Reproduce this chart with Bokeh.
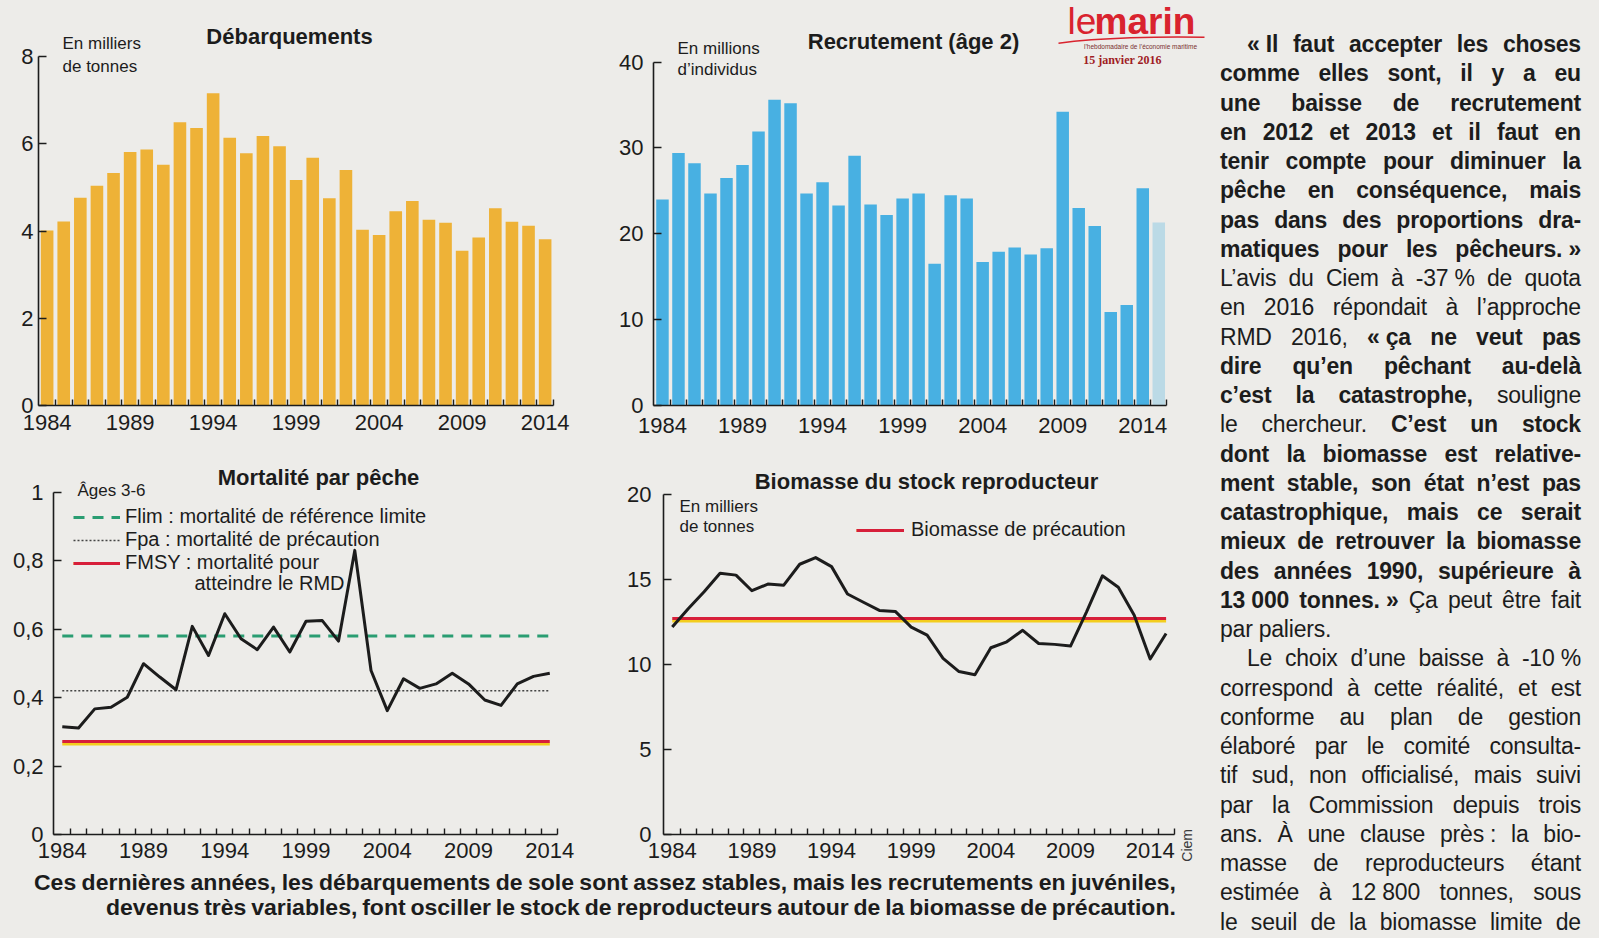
from html import escape
from bokeh.plotting import figure
from bokeh.models import (Range1d, FixedTicker, Label, Legend, LegendItem, Div,
                          CustomJSTickFormatter)
from bokeh.core.properties import value
from bokeh.layouts import row, column
from bokeh.embed import file_html
from bokeh.resources import INLINE

# ---------------------------------------------------------------- data
landing_years = list(range(1984, 2015))
landings = [4.01, 4.22, 4.76, 5.04, 5.33, 5.81, 5.87, 5.52, 6.49, 6.36, 7.16,
            6.14, 5.78, 6.18, 5.94, 5.17, 5.68, 4.75, 5.40, 4.03, 3.91, 4.45,
            4.69, 4.26, 4.19, 3.55, 3.85, 4.52, 4.21, 4.12, 3.81]

recruit_years = list(range(1984, 2016))
recruitment = [24.0, 29.4, 28.2, 24.7, 26.5, 28.0, 31.9, 35.6, 35.2, 24.7, 26.0,
               23.3, 29.1, 23.4, 22.2, 24.1, 24.7, 16.5, 24.5, 24.1, 16.7, 17.9,
               18.4, 17.6, 18.3, 34.2, 23.0, 20.9, 10.9, 11.7, 25.3, 21.3]
recruit_last_assessed = 2014

mortality_years = list(range(1984, 2015))
mortality = [0.315, 0.311, 0.367, 0.372, 0.401, 0.499, 0.460, 0.423, 0.608, 0.523,
             0.645, 0.572, 0.540, 0.606, 0.533, 0.623, 0.625, 0.565, 0.830, 0.479,
             0.362, 0.455, 0.427, 0.440, 0.471, 0.440, 0.393, 0.377, 0.440, 0.462,
             0.471]
f_lim = 0.58
f_pa = 0.42
f_msy = 0.27

ssb_years = list(range(1984, 2016))
ssb = [12.22, 13.3, 14.3, 15.39, 15.28, 14.36, 14.75, 14.69, 15.92, 16.31, 15.78,
       14.17, 13.68, 13.20, 13.14, 12.22, 11.74, 10.38, 9.60, 9.41, 11.00, 11.35,
       12.03, 11.25, 11.20, 11.10, 13.10, 15.24, 14.56, 12.91, 10.34, 11.84]
b_pa = 12.7

year_tick_labels = [1984, 1989, 1994, 1999, 2004, 2009, 2014]
landing_ticks = [0, 2, 4, 6, 8]
recruit_ticks = [0, 10, 20, 30, 40]
mortality_ticks = [0, 0.2, 0.4, 0.6, 0.8, 1]
ssb_ticks = [0, 5, 10, 15, 20]

# ---------------------------------------------------------------- style
BG = "#edece9"
INK = "#1c1c1c"
FONT = "Liberation Sans"
ORANGE = "#eeb237"
BLUE = "#48b0e2"
RED = "#d71f3a"
YELLOW = "#f3cd1e"
GREEN = "#2a9d72"
LOGO_RED = "#d9232e"
BGSTYLE = {"background-color": BG}


class Panel:
    """Page geometry of one chart (page pixels)."""
    def __init__(self, left, top, width, height, border_left, border_bottom,
                 x_start, px_per_year, px_per_unit):
        self.left, self.top, self.width, self.height = left, top, width, height
        self.bl, self.bb = border_left, border_bottom
        self.fl = left + border_left
        self.fb = top + height - border_bottom
        self.x0, self.ppy, self.ppu = x_start, px_per_year, px_per_unit

    def x(self, px):
        return self.x0 + (px - self.fl) / self.ppy

    def y(self, py):
        return (self.fb - py) / self.ppu


ROW1_H = 445
ROW2_H = 426
CAP_H = 67
G1 = Panel(0, 0, 608, ROW1_H, 38, 40, 1983.48, 16.6, 43.625)
G2 = Panel(608, 0, 600, ROW1_H, 45, 37, 1983.44, 16.01, 8.65)
G3 = Panel(0, ROW1_H, 608, ROW2_H, 53, 37, 1983.46, 16.25, 342.3)
G4 = Panel(608, ROW1_H, 570, ROW2_H, 55, 33, 1983.45, 15.93, 17.15)


def make_fig(g, years, y_ticks, x_standoff, y_standoff, comma=False):
    p = figure(width=g.width, height=g.height,
               x_range=Range1d(g.x0, g.x(g.left + g.width)),
               y_range=Range1d(0, g.y(g.top)),
               output_backend="svg", toolbar_location=None,
               min_border_left=g.bl, min_border_right=0, min_border_top=0,
               min_border_bottom=g.bb,
               background_fill_color=BG, border_fill_color=BG,
               outline_line_color=None, styles=BGSTYLE)
    p.grid.visible = False
    xa = p.xaxis[0]
    xa.ticker = FixedTicker(ticks=year_tick_labels,
                            minor_ticks=[y + 0.5 for y in years])
    xa.bounds = (g.x0, years[-1] + 0.5)
    xa.major_tick_in = 0
    xa.major_tick_out = 0
    xa.minor_tick_in = 6
    xa.minor_tick_out = 0
    xa.major_label_standoff = x_standoff
    ya = p.yaxis[0]
    ya.ticker = FixedTicker(ticks=y_ticks, minor_ticks=[])
    ya.bounds = (0, y_ticks[-1])
    ya.major_tick_in = 8
    ya.major_tick_out = 0
    ya.minor_tick_in = 0
    ya.minor_tick_out = 0
    ya.major_label_standoff = y_standoff
    if comma:
        ya.formatter = CustomJSTickFormatter(code="return String(tick).replace('.', ',');")
    for ax in (xa, ya):
        ax.axis_line_color = INK
        ax.axis_line_width = 1.6
        ax.major_tick_line_color = INK
        ax.major_tick_line_width = 1.4
        ax.minor_tick_line_color = INK
        ax.minor_tick_line_width = 1.4
        ax.major_label_text_font = FONT
        ax.major_label_text_font_size = "22px"
        ax.major_label_text_color = INK
    return p


def text(p, g, txt, px, py, size, bold=False, align="left", color=INK,
         font=FONT, angle=0.0):
    p.add_layout(Label(x=g.x(px), y=g.y(py), text=txt, text_font=font,
                       text_font_size=f"{size}px",
                       text_font_style="bold" if bold else "normal",
                       text_align=align, text_baseline="middle",
                       text_color=color, angle=angle))


# ---------------------------------------------------------------- Débarquements
p1 = make_fig(G1, landing_years, landing_ticks, 9, 5)
p1.vbar(x=landing_years, top=landings, width=0.76, fill_color=ORANGE, line_color=None)
text(p1, G1, "Débarquements", 289, 36, 22, bold=True, align="center")
text(p1, G1, "En milliers", 62, 43, 17)
text(p1, G1, "de tonnes", 62, 66, 17)

# ---------------------------------------------------------------- Recrutement
p2 = make_fig(G2, recruit_years, recruit_ticks, 12, 10)
solid = [(y, v) for y, v in zip(recruit_years, recruitment) if y <= recruit_last_assessed]
faint = [(y, v) for y, v in zip(recruit_years, recruitment) if y > recruit_last_assessed]
p2.vbar(x=[s[0] for s in solid], top=[s[1] for s in solid], width=0.78,
        fill_color=BLUE, line_color=None)
p2.vbar(x=[s[0] for s in faint], top=[s[1] for s in faint], width=0.78,
        fill_color=BLUE, fill_alpha=0.3, line_color=None)
text(p2, G2, "Recrutement (âge 2)", 913, 41, 22, bold=True, align="center")
text(p2, G2, "En millions", 677, 48, 17)
text(p2, G2, "d’individus", 677, 70, 17)
# newspaper logo
p2.bezier(x0=G2.x(1058), y0=G2.y(43), x1=G2.x(1204), y1=G2.y(37),
          cx0=G2.x(1100), cy0=G2.y(37.5), cx1=G2.x(1160), cy1=G2.y(36),
          line_color=LOGO_RED, line_width=1.4)
text(p2, G2, "le", 1067, 21, 37, color=LOGO_RED)
text(p2, G2, "marin", 1094, 21, 37, bold=True, color=LOGO_RED)
text(p2, G2, "l’hebdomadaire de l’économie maritime", 1140, 46, 6.5, align="center",
     color="#7a3030")
text(p2, G2, "15 janvier 2016", 1122, 60, 12, bold=True, align="center",
     color="#a01c24", font="Liberation Serif")

# ---------------------------------------------------------------- Mortalité
p3 = make_fig(G3, mortality_years, mortality_ticks, 8, 10, comma=True)
span_x = [mortality_years[0], mortality_years[-1]]
r_flim = p3.line(span_x, [f_lim, f_lim], line_color=GREEN, line_width=3, line_dash="11 8")
r_fpa = p3.line(span_x, [f_pa, f_pa], line_color="#444444", line_width=1.6, line_dash="2 2")
off3 = 2.0 / G3.ppu
r_msy_y = p3.line(span_x, [f_msy - off3, f_msy - off3], line_color=YELLOW, line_width=3)
r_msy_r = p3.line(span_x, [f_msy + off3 / 4, f_msy + off3 / 4], line_color=RED, line_width=3)
p3.line(mortality_years, mortality, line_color=INK, line_width=3, line_join="round")
leg3 = Legend(items=[
    LegendItem(label=value("Flim : mortalité de référence limite"), renderers=[r_flim]),
    LegendItem(label=value("Fpa : mortalité de précaution"), renderers=[r_fpa]),
    LegendItem(label=value("FMSY : mortalité pour"), renderers=[r_msy_y, r_msy_r]),
], location=(20, 260), padding=0, spacing=-3, margin=0, glyph_width=47,
    glyph_height=20, label_height=20, label_standoff=5,
    background_fill_alpha=0, border_line_color=None,
    label_text_font=FONT, label_text_font_size="20px", label_text_color=INK)
p3.add_layout(leg3)
text(p3, G3, "atteindre le RMD", 194, 582, 20)
text(p3, G3, "Mortalité par pêche", 318, 477, 22, bold=True, align="center")
text(p3, G3, "Âges 3-6", 77, 490, 17)

# ---------------------------------------------------------------- Biomasse
p4 = make_fig(G4, ssb_years, ssb_ticks, 8, 12)
span_b = [ssb_years[0], ssb_years[-1]]
off4 = 2.0 / G4.ppu
r_b_y = p4.line(span_b, [b_pa - off4, b_pa - off4], line_color=YELLOW, line_width=3)
r_b_r = p4.line(span_b, [b_pa + off4 / 4, b_pa + off4 / 4], line_color=RED, line_width=3)
p4.line(ssb_years, ssb, line_color=INK, line_width=3, line_join="round")
leg4 = Legend(items=[LegendItem(label=value("Biomasse de précaution"), renderers=[r_b_y, r_b_r])],
              location=(193, 293), padding=0, spacing=0, margin=0, glyph_width=48,
              glyph_height=20, label_height=20, label_standoff=7,
              background_fill_alpha=0, border_line_color=None,
              label_text_font=FONT, label_text_font_size="20px", label_text_color=INK)
p4.add_layout(leg4)
text(p4, G4, "Biomasse du stock reproducteur", 926, 481, 22, bold=True, align="center")
text(p4, G4, "En milliers", 679, 507, 17)
text(p4, G4, "de tonnes", 679, 527, 17)

DIVSTYLE = {"background-color": BG, "overflow": "hidden", "box-sizing": "border-box"}

# source credit, vertical, right of the biomass chart
ciem_div = Div(
    text=(f'<div style="position:relative;width:30px;height:{ROW2_H}px;">'
          f'<div style="position:absolute;left:1px;top:384px;writing-mode:vertical-rl;'
          f'transform:rotate(180deg);font-family:\'{FONT}\',Arial,sans-serif;font-size:14px;'
          f'line-height:16px;color:#3a3a3a;white-space:nowrap;">Ciem</div></div>'),
    width=30, height=ROW2_H, margin=0, styles=DIVSTYLE)

# ---------------------------------------------------------------- caption
caption_lines = [
    "Ces dernières années, les débarquements de sole sont assez stables, mais les recrutements en juvéniles,",
    "devenus très variables, font osciller le stock de reproducteurs autour de la biomasse de précaution.",
]
cap_scale = 1.07
cap_geom = [(34, 1142), (106, 1070)]
cap_html = [f'<div style="font-family:\'{FONT}\',Arial,sans-serif;font-weight:700;'
            f'font-size:21.5px;color:{INK};width:1208px;height:{CAP_H}px;overflow:hidden;">']
for line, (ml, w) in zip(caption_lines, cap_geom):
    spans = "".join(f"<span>{escape(wd)}</span>" for wd in line.split(" "))
    cap_html.append(
        f'<div style="height:25px;line-height:25px;margin-left:{ml}px;width:{w / cap_scale:.1f}px;'
        f'transform:scaleX({cap_scale});transform-origin:0 50%;display:flex;'
        f'justify-content:space-between;white-space:nowrap;">{spans}</div>')
cap_html.append("</div>")
caption = Div(text="".join(cap_html), width=1208, height=CAP_H, margin=0, styles=DIVSTYLE)

# ---------------------------------------------------------------- article column
B, R = True, False
NB = "\u00a0"
article = [
    ("indent", [(f"«{NB}Il faut accepter les choses", B)]),
    ("just", [("comme elles sont, il y a eu", B)]),
    ("just", [("une baisse de recrutement", B)]),
    ("just", [("en 2012 et 2013 et il faut en", B)]),
    ("just", [("tenir compte pour diminuer la", B)]),
    ("just", [("pêche en conséquence, mais", B)]),
    ("just", [("pas dans des proportions dra-", B)]),
    ("just", [(f"matiques pour les pêcheurs.{NB}»", B)]),
    ("just", [(f"L’avis du Ciem à -37{NB}% de quota", R)]),
    ("just", [("en 2016 répondait à l’approche", R)]),
    ("just", [("RMD 2016,", R), (f"«{NB}ça ne veut pas", B)]),
    ("just", [("dire qu’en pêchant au-delà", B)]),
    ("just", [("c’est la catastrophe,", B), ("souligne", R)]),
    ("just", [("le chercheur.", R), ("C’est un stock", B)]),
    ("just", [("dont la biomasse est relative-", B)]),
    ("just", [("ment stable, son état n’est pas", B)]),
    ("just", [("catastrophique, mais ce serait", B)]),
    ("just", [("mieux de retrouver la biomasse", B)]),
    ("just", [("des années 1990, supérieure à", B)]),
    ("just", [(f"13{NB}000 tonnes.{NB}»", B), ("Ça peut être fait", R)]),
    ("left", [("par paliers.", R)]),
    ("indent", [(f"Le choix d’une baisse à -10{NB}%", R)]),
    ("just", [("correspond à cette réalité, et est", R)]),
    ("just", [("conforme au plan de gestion", R)]),
    ("just", [("élaboré par le comité consulta-", R)]),
    ("just", [("tif sud, non officialisé, mais suivi", R)]),
    ("just", [("par la Commission depuis trois", R)]),
    ("just", [(f"ans. À une clause près{NB}: la bio-", R)]),
    ("just", [("masse de reproducteurs étant", R)]),
    ("just", [(f"estimée à 12{NB}800 tonnes, sous", R)]),
    ("just", [("le seuil de la biomasse limite de", R)]),
]
art_html = [f'<div style="box-sizing:content-box;font-family:\'{FONT}\',Arial,sans-serif;'
            f'font-size:23px;letter-spacing:-0.2px;color:{INK};padding:30px 0 0 12px;width:361px;">']
for kind, segs in article:
    spans = []
    for t, bold in segs:
        for wd in t.split(" "):
            spans.append(f'<span style="font-weight:{700 if bold else 400}">{escape(wd)}</span>')
    if kind == "left":
        jc = "justify-content:flex-start;column-gap:6px;"
    else:
        jc = "justify-content:space-between;"
    pad = "padding-left:27px;" if kind == "indent" else ""
    art_html.append(f'<div style="box-sizing:border-box;display:flex;{jc}{pad}white-space:nowrap;'
                    f'height:29.25px;line-height:29.25px;">{"".join(spans)}</div>')
art_html.append("</div>")
article_div = Div(text="".join(art_html), width=391, height=ROW1_H + ROW2_H + CAP_H,
                  margin=0, styles=DIVSTYLE)

p = row(column(row(p1, p2, styles=BGSTYLE),
               row(p3, p4, ciem_div, styles=BGSTYLE),
               caption, styles=BGSTYLE),
        article_div, styles=BGSTYLE)

open("out.html", "w").write(file_html(p, INLINE))
